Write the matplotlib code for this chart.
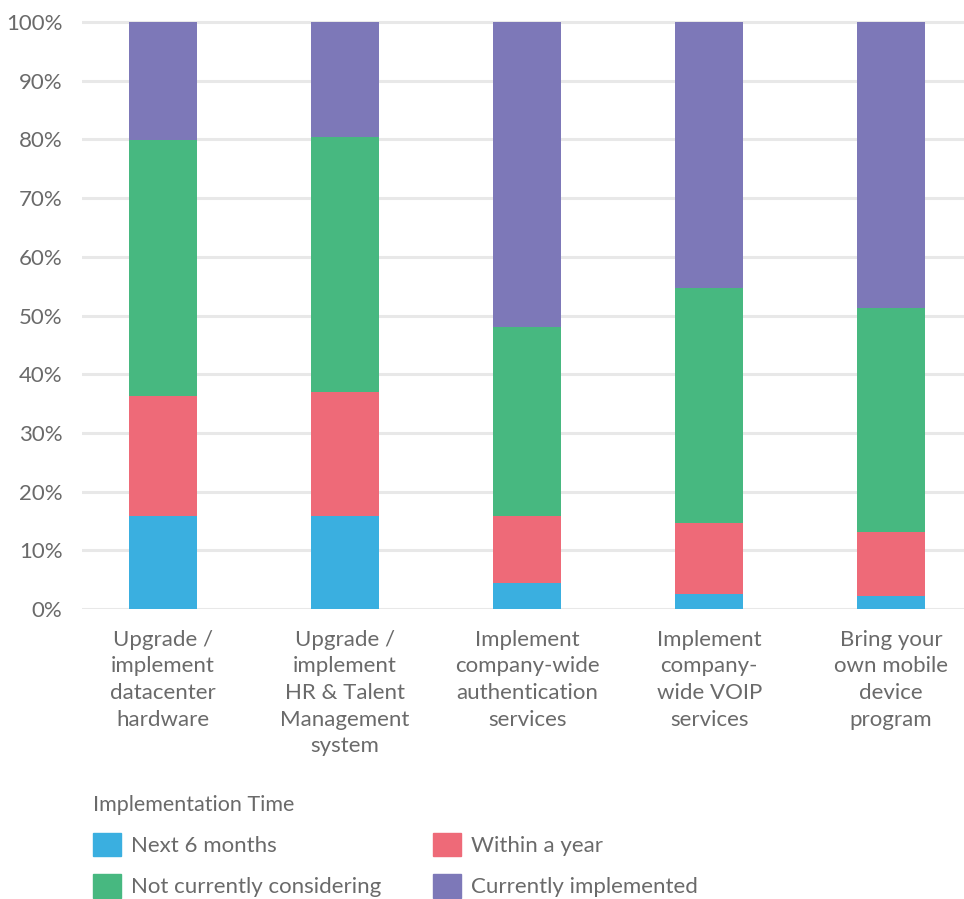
import numpy as np
import matplotlib
matplotlib.use("Agg")
import matplotlib.pyplot as plt
from matplotlib.patches import Patch

# Dados (percentuais empilhados)
categorias = [
    "Upgrade /\nimplement\ndatacenter\nhardware",
    "Upgrade /\nimplement\nHR & Talent\nManagement\nsystem",
    "Implement\ncompany-wide\nauthentication\nservices",
    "Implement\ncompany-\nwide VOIP\nservices",
    "Bring your\nown mobile\ndevice\nprogram",
]
proximos_6_meses = [15.8, 15.8, 4.4, 2.6, 2.2]
dentro_de_um_ano = [20.5, 21.2, 11.4, 12.1, 10.9]
nao_considerando = [43.6, 43.4, 32.2, 40.0, 38.2]
implementado = [20.1, 19.6, 52.0, 45.3, 48.7]

series = ["Next 6 months", "Within a year", "Not currently considering", "Currently implemented"]
cores = ["#3aafe0", "#ee6a78", "#47b880", "#7d78b8"]
ticks_y = [0, 10, 20, 30, 40, 50, 60, 70, 80, 90, 100]

plt.rcParams['font.family'] = ['Lato', 'DejaVu Sans']
cinza = "#6a6a6a"
TAM = 16

fig = plt.figure(figsize=(9.64, 8.99), dpi=100)
ax = fig.add_axes([82 / 964, (899 - 609) / 899, (964 - 82) / 964, (609 - 22) / 899 * 101 / 100])

x = np.arange(len(categorias))
base = np.zeros(len(categorias))
for valores, cor, nome in zip([proximos_6_meses, dentro_de_um_ano, nao_considerando, implementado], cores, series):
    ax.bar(x, valores, bottom=base, width=0.374, color=cor, label=nome, zorder=3)
    base += np.array(valores)

ax.set_xlim(-0.445, 4.40)
ax.set_ylim(0, 101)
ax.set_yticks(ticks_y)
ax.set_yticklabels([f"{t}%" for t in ticks_y], fontsize=TAM, color=cinza)
ax.yaxis.grid(True, color="#e8e8e8", linewidth=2.2, zorder=0)
ax.tick_params(axis='y', length=0, pad=14)
ax.tick_params(axis='x', length=0, pad=15)
ax.set_xticks(x)
ax.set_xticklabels(categorias, fontsize=TAM, color=cinza, linespacing=1.41, va='top')
for s in ax.spines.values():
    s.set_visible(False)

# Legenda
handles = [Patch(color=c, label=n) for c, n in zip(cores, series)]
ordem = [0, 2, 1, 3]
leg = fig.legend([handles[i] for i in ordem], [series[i] for i in ordem],
                 ncol=2, loc='upper left', bbox_to_anchor=(73 / 964, 1 - 775 / 899),
                 frameon=False, fontsize=TAM, title="Implementation Time",
                 title_fontsize=TAM - 0.5, handlelength=1.25, handleheight=1.25,
                 handletextpad=0.45, columnspacing=2.35, labelspacing=0.8,
                 labelcolor=cinza)
leg.get_title().set_color(cinza)
leg._legend_box.align = "left"

plt.savefig("out.png", dpi=100)
